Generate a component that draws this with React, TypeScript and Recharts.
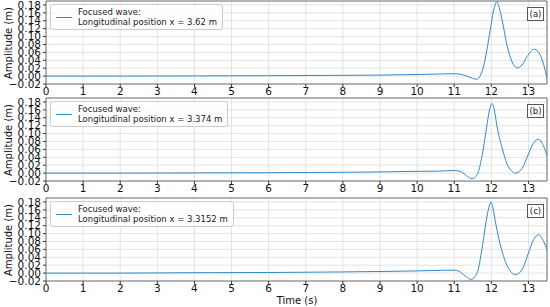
import React from "react";
import { LineChart, Line, XAxis, YAxis, CartesianGrid, ReferenceArea } from "recharts";

const xTicks = [0, 1, 2, 3, 4, 5, 6, 7, 8, 9, 10, 11, 12, 13];
const yTicks = [-0.02, 0, 0.02, 0.04, 0.06, 0.08, 0.1, 0.12, 0.14, 0.16, 0.18];

const timeA = [0, 2, 4, 6, 8, 9, 10, 10.5, 11, 11.2, 11.4, 11.6, 11.71, 11.8, 11.88, 11.97, 12.07, 12.15, 12.22, 12.29, 12.42, 12.56, 12.69, 12.83, 12.96, 13.16, 13.32, 13.46, 13.5];
const ampA = [0, 0, 0.0005, 0.001, 0.002, 0.0025, 0.004, 0.005, 0.006, 0.004, -0.002, -0.008, 0.0025, 0.028, 0.066, 0.117, 0.17, 0.188, 0.17, 0.142, 0.079, 0.036, 0.021, 0.028, 0.049, 0.068, 0.053, 0.011, -0.006];

const timeB = [0, 2, 4, 6, 8, 9, 10, 10.6, 11, 11.17, 11.35, 11.48, 11.62, 11.75, 11.88, 11.95, 12.02, 12.08, 12.15, 12.29, 12.42, 12.54, 12.65, 12.83, 13, 13.13, 13.26, 13.41, 13.5];
const ampB = [0, 0, 0.0005, 0.001, 0.002, 0.003, 0.0045, 0.005, 0.0065, 0.004, -0.008, -0.0144, -0.004, 0.044, 0.12, 0.16, 0.176, 0.16, 0.12, 0.064, 0.024, 0.006, 0, 0.012, 0.048, 0.075, 0.086, 0.068, 0.044];

const timeC = [0, 2, 4, 6, 8, 9, 10, 10.63, 11, 11.12, 11.3, 11.45, 11.62, 11.75, 11.88, 11.94, 11.99, 12.05, 12.11, 12.24, 12.42, 12.55, 12.65, 12.83, 13, 13.14, 13.28, 13.41, 13.5];
const ampC = [0, 0, 0.001, 0.0015, 0.003, 0.004, 0.0055, 0.007, 0.0075, 0.005, -0.0075, -0.016, 0.001, 0.063, 0.142, 0.168, 0.18, 0.162, 0.13, 0.072, 0.02, 0.001, -0.004, 0.009, 0.051, 0.085, 0.097, 0.08, 0.059];

const positions = ["3.62", "3.374", "3.3152"];
const panelLabels = ["(a)", "(b)", "(c)"];

const FONT = "'DejaVu Sans', sans-serif";
const BLUE = "#3288c8";

const fmtY = (v: number) => {
  const s = Math.abs(v).toFixed(2);
  return v < -1e-9 ? "\u2212" + s : s;
};

function Panel({ times, amps, pos, label, top }: { times: number[]; amps: number[]; pos: string; label: string; top: number }) {
  const data = times.map((t, i) => ({ t, a: amps[i] }));
  const tickStyle = { fontSize: 10.5, fill: "#111", fontFamily: FONT };
  return (
    <div style={{ position: "absolute", left: 0, top, width: 550, height: 99 }}>
      <LineChart width={550} height={99} data={data} margin={{ top: 1, right: 3, bottom: 0, left: 0 }}>
        <CartesianGrid stroke="#dcdcdc" strokeWidth={0.8} />
        <XAxis
          dataKey="t"
          type="number"
          domain={[0, 13.5]}
          ticks={xTicks}
          allowDataOverflow
          height={15}
          tick={tickStyle}
          tickSize={3}
          tickMargin={1}
          axisLine={false}
          tickLine={{ stroke: "#333" }}
        />
        <YAxis
          type="number"
          domain={[-0.02, 0.19]}
          ticks={yTicks}
          allowDataOverflow
          width={46}
          tick={tickStyle}
          tickFormatter={fmtY}
          tickSize={3}
          tickMargin={2}
          axisLine={false}
          tickLine={{ stroke: "#333" }}
          interval={0}
        />
        <ReferenceArea x1={0} x2={13.5} y1={-0.02} y2={0.19} fill="none" stroke="#555" strokeWidth={0.8} ifOverflow="visible" />
        <Line dataKey="a" type="monotone" stroke={BLUE} strokeWidth={1} dot={false} isAnimationActive={false} />
      </LineChart>
      <div
        style={{
          position: "absolute",
          left: 50,
          top: 4,
          border: "1px solid #cccccc",
          borderRadius: 3,
          background: "rgba(255,255,255,0.8)",
          padding: "2px 5px 2px 5px",
          display: "flex",
          alignItems: "center",
          fontFamily: FONT,
          fontSize: 8.5,
          lineHeight: "10px",
          color: "#222",
        }}
      >
        <div style={{ width: 16, height: 0, borderTop: `1.5px solid ${BLUE}`, marginRight: 6 }} />
        <div style={{ whiteSpace: "nowrap" }}>
          <div>Focused wave:</div>
          <div>Longitudinal position x = {pos} m</div>
        </div>
      </div>
      <div
        style={{
          position: "absolute",
          left: 527,
          top: 7,
          width: 15,
          height: 12,
          border: "1px solid #555",
          background: "#fff",
          fontFamily: FONT,
          fontSize: 8.5,
          lineHeight: "12px",
          textAlign: "center",
          color: "#222",
        }}
      >
        {label}
      </div>
      <div style={{ position: "absolute", left: 8, top: 42.5, width: 0, height: 0 }}>
        <span
          style={{
            position: "absolute",
            left: 0,
            top: 0,
            whiteSpace: "nowrap",
            fontFamily: FONT,
            fontSize: 10,
            transform: "translate(-50%, -50%) rotate(-90deg)",
            color: "#111",
          }}
        >
          Amplitude (m)
        </span>
      </div>
    </div>
  );
}

export default function App() {
  return (
    <div style={{ position: "absolute", left: 0, top: 0, width: 550, height: 307, background: "#fff", fontFamily: FONT }}>
      <Panel times={timeA} amps={ampA} pos={positions[0]} label={panelLabels[0]} top={0} />
      <Panel times={timeB} amps={ampB} pos={positions[1]} label={panelLabels[1]} top={97} />
      <Panel times={timeC} amps={ampC} pos={positions[2]} label={panelLabels[2]} top={197} />
      <div
        style={{
          position: "absolute",
          left: 297,
          top: 300,
          transform: "translate(-50%, -50%)",
          fontFamily: FONT,
          fontSize: 10,
          whiteSpace: "nowrap",
          color: "#111",
        }}
      >
        Time (s)
      </div>
    </div>
  );
}
